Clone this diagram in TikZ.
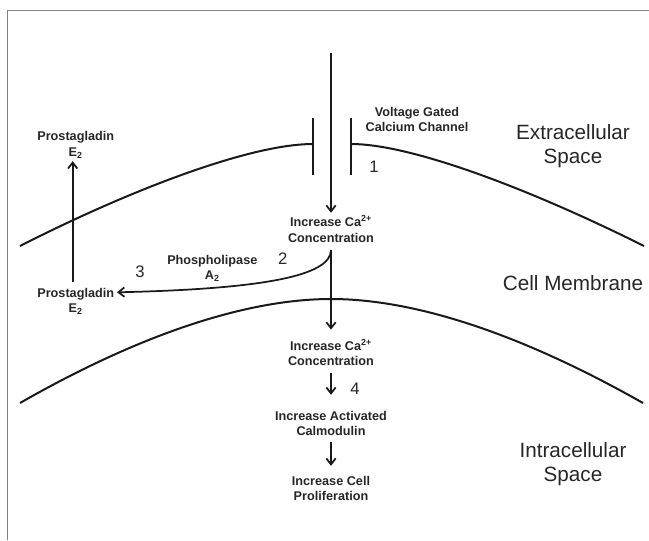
\documentclass[tikz,border=0pt]{standalone}
\usepackage{fontspec}
\setmainfont{Liberation Sans}
\usepackage{tikz}
\usetikzlibrary{arrows.meta,calc}

\begin{document}
\begin{tikzpicture}[x=0.75pt,y=-0.75pt,
    lbl/.style={font=\bfseries\fontsize{9.5}{11.4}\selectfont, align=center, text=black!85, inner sep=2pt},
    big/.style={font=\fontsize{15.5}{18}\selectfont, align=center, text=black!85},
    num/.style={font=\fontsize{12.5}{15}\selectfont, text=black!85},
    mem/.style={line width=1.5pt, black!90},
    flow/.style={line width=1.3pt, black!90, shorten <=3pt, -{Straight Barb[length=4.5pt,width=7pt]}}]
    \useasboundingbox (0,0) rectangle (649,540);
    % frame
    \draw[gray, line width=1.1pt] (7.7,540) -- (7.7,10.3) -- (649,10.3);

    % outer and inner side of the membrane
    \draw[mem] (20,246) .. controls (130,190) and (250,144) .. (313,144);
    \draw[mem] (351,144) .. controls (412,144) and (532,190) .. (644,246);
    \draw[mem] (20,403) .. controls (130,340) and (240,299) .. (331,299)
        .. controls (422,299) and (532,340) .. (643,403);
    % channel
    \draw[mem] (313,118) -- (313,175);
    \draw[mem] (351,118) -- (351,175);

    % region names
    \node[big] (extra) at (573,146.3) {Extracellular\\Space};
    \node[big] (memb) at (573,283.3) {Cell Membrane};
    \node[big] (intra) at (573,464) {Intracellular\\Space};

    % steps
    \node[lbl] (vgcc) at (417,119.2) {Voltage Gated\\Calcium Channel};
    \node[num] (n1) at (374,167) {1};
    \node[lbl] (ca1) at (331,229) {Increase Ca\textsuperscript{2+}\\Concentration};
    \node[lbl] (pla) at (212.3,268.7) {Phospholipase\\A\textsubscript{2}};
    \node[num] (n2) at (282.7,258.3) {2};
    \node[num] (n3) at (140,271.7) {3};
    \node[lbl] (pg2) at (75.7,301.7) {Prostagladin\\E\textsubscript{2}};
    \node[lbl] (pg1) at (75.7,145) {Prostagladin\\E\textsubscript{2}};
    \node[lbl] (ca2) at (331,352.5) {Increase Ca\textsuperscript{2+}\\Concentration};
    \node[num] (n4) at (355,388.3) {4};
    \node[lbl] (am) at (331,423.3) {Increase Activated\\Calmodulin};
    \node[lbl] (cp) at (331,488.3) {Increase Cell\\Proliferation};

    \coordinate (src) at (331,53);
    \coordinate (split) at (331,250);

    \draw[flow, shorten <=0pt] (src) -- (ca1);
    \draw[flow, shorten <=0pt, shorten >=5pt] (split) -- (ca2);
    \draw[flow, shorten <=0pt] (split) .. controls (331,276) and (262,289) .. ($(pg2.east)+(0,-9.4)$);
    \draw[flow] ($(pg2.north)+(-3,0)$) -- ($(pg1.south)+(-3,0)$);
    \draw[flow, shorten >=10pt] (ca2) -- (am);
    \draw[flow, shorten >=5.5pt] (am) -- (cp);
\end{tikzpicture}
\end{document}
